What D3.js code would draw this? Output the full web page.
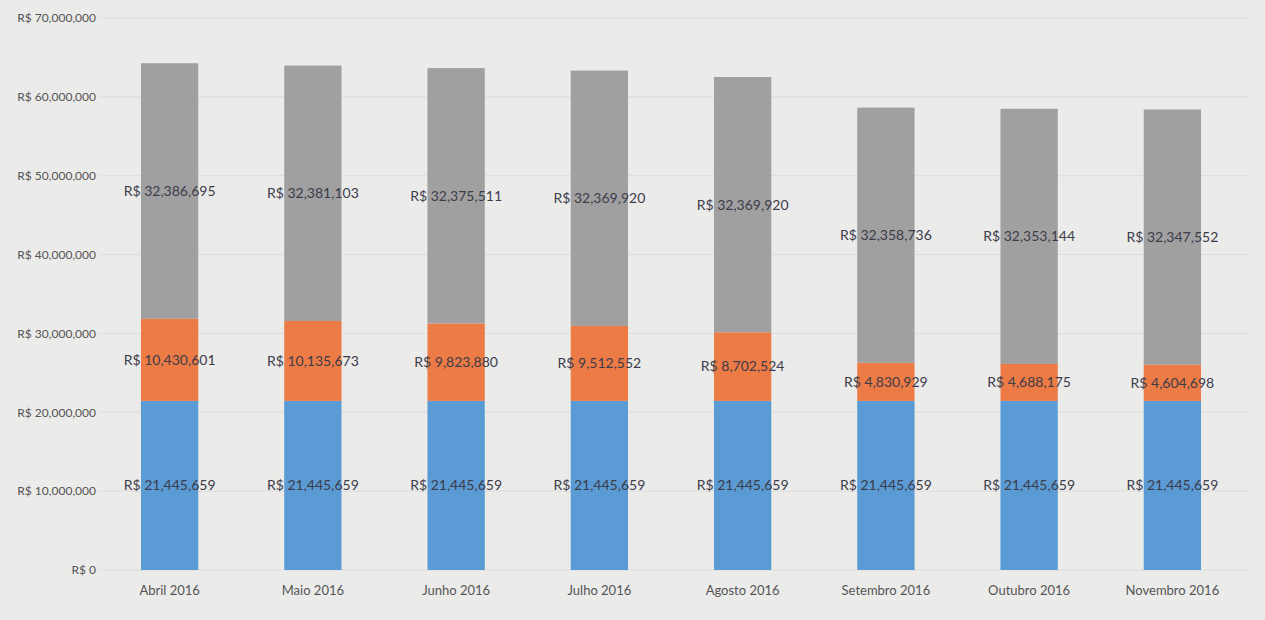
<!DOCTYPE html>
<html><head><meta charset="utf-8">
<script src="https://cdn.jsdelivr.net/npm/d3@7"></script>
<style>body{margin:0;background:#ebebea;}svg{display:block;}</style>
</head><body>
<svg id="c" width="1265" height="620"></svg>
<script>
const categories = ["Abril 2016","Maio 2016","Junho 2016","Julho 2016","Agosto 2016","Setembro 2016","Outubro 2016","Novembro 2016"];
const blueValues = [21445659,21445659,21445659,21445659,21445659,21445659,21445659,21445659];
const orangeValues = [10430601,10135673,9823880,9512552,8702524,4830929,4688175,4604698];
const grayValues = [32386695,32381103,32375511,32369920,32369920,32358736,32353144,32347552];
const yTicks = [0,10000000,20000000,30000000,40000000,50000000,60000000,70000000];

const seriesKeys = ["blue","orange","gray"];
const colors = {blue:"#5b9bd5", orange:"#ec7b45", gray:"#a0a0a0"};
const rows = categories.map((c,i)=>({cat:c, blue:blueValues[i], orange:orangeValues[i], gray:grayValues[i]}));

const svg = d3.select("#c");
const x = d3.scaleBand().domain(categories).range([98,1244]).paddingInner(0.6).paddingOuter(0.3);
const y = d3.scaleLinear().domain([0,70000000]).range([570,18]);
const fmt = v => "R$ " + d3.format(",")(v);
const tickFmt = v => v===0 ? "R$ 0" : "R$ " + d3.format(",")(v);

// gridlines
svg.append("g").selectAll("line").data(yTicks).join("line")
  .attr("x1",100).attr("x2",1250).attr("y1",d=>y(d)).attr("y2",d=>y(d))
  .attr("stroke","#dcdcdc").attr("stroke-width",1);

// y axis
const yAxis = svg.append("g").attr("transform","translate(96,0)")
  .call(d3.axisLeft(y).tickValues(yTicks).tickFormat(tickFmt).tickSize(0).tickPadding(0));
yAxis.select(".domain").remove();
yAxis.selectAll("text").attr("font-family","Lato, 'Open Sans', sans-serif").attr("font-size",12).attr("fill","#555");

// stacked bars
const stack = d3.stack().keys(seriesKeys)(rows);
const g = svg.append("g");
stack.forEach(layer=>{
  g.append("g").selectAll("rect").data(layer).join("rect")
    .attr("x",d=>x(d.data.cat)).attr("width",x.bandwidth())
    .attr("y",d=>y(d[1])).attr("height",d=>y(d[0])-y(d[1]))
    .attr("fill",colors[layer.key]);
});
stack.forEach(layer=>{
  g.append("g").selectAll("text").data(layer).join("text")
    .attr("x",d=>x(d.data.cat)+x.bandwidth()/2)
    .attr("y",d=>(y(d[0])+y(d[1]))/2)
    .attr("dy","0.35em").attr("text-anchor","middle")
    .attr("font-family","Lato, 'Open Sans', sans-serif").attr("font-size",14)
    .attr("fill","#3c3c4a")
    .text(d=>fmt(d.data[layer.key]));
});

// x axis
const xAxis = svg.append("g").attr("transform","translate(0,570)")
  .call(d3.axisBottom(x).tickSize(0).tickPadding(16));
xAxis.select(".domain").remove();
xAxis.selectAll("text").attr("font-family","Lato, 'Open Sans', sans-serif").attr("font-size",13).attr("fill","#555");
</script>
</body></html>
